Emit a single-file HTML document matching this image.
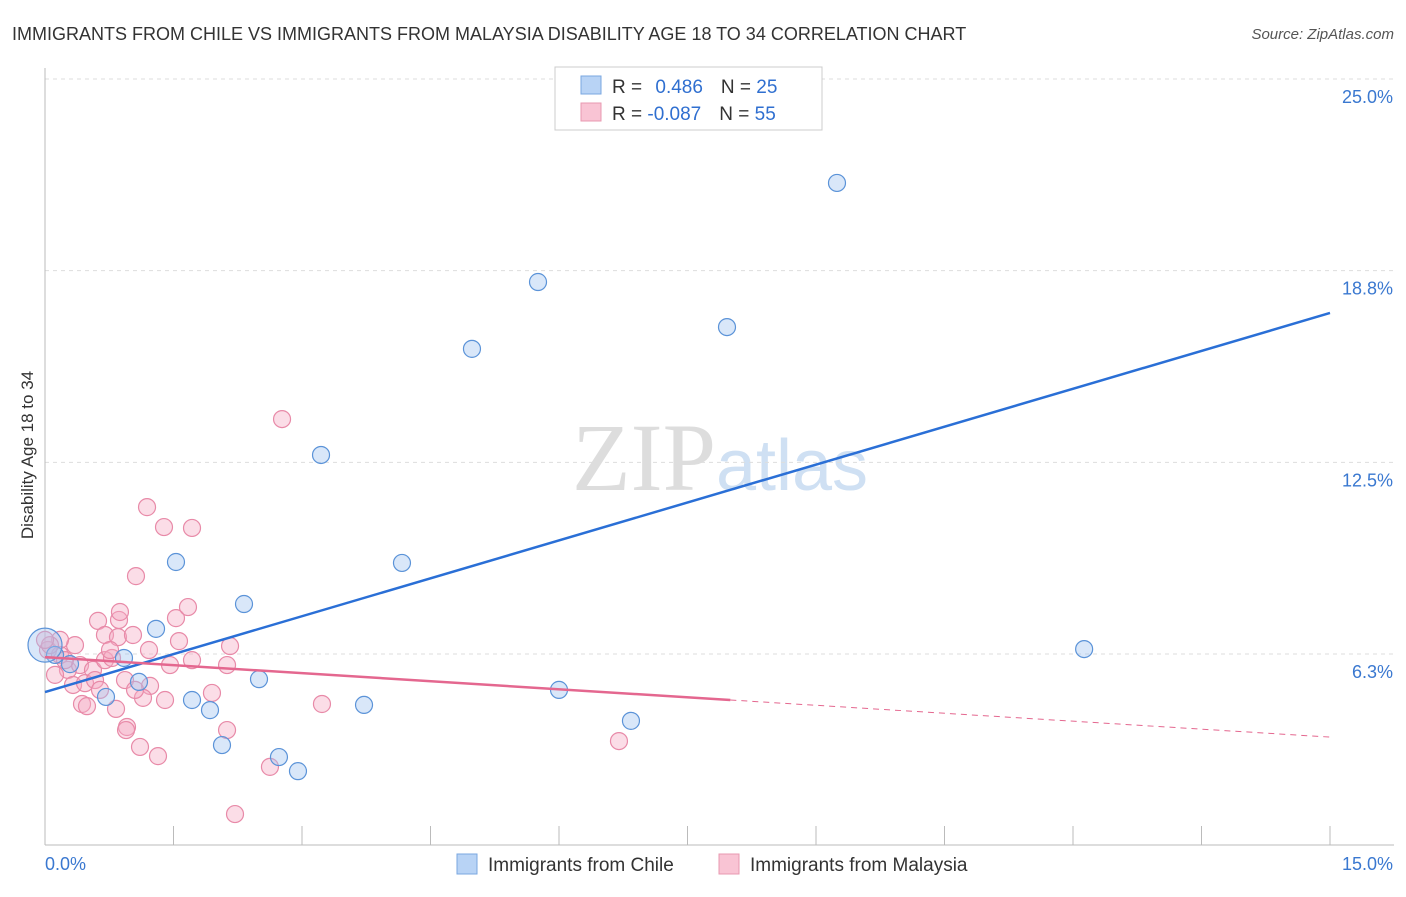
<!DOCTYPE html>
<html><head><meta charset="utf-8"><style>
body{margin:0;background:#fff;font-family:"Liberation Sans",sans-serif}
</style></head><body>
<svg id="chart" width="1406" height="892" xmlns="http://www.w3.org/2000/svg" font-family="Liberation Sans, sans-serif">
<text x="12" y="40" font-size="18" fill="#333">IMMIGRANTS FROM CHILE VS IMMIGRANTS FROM MALAYSIA DISABILITY AGE 18 TO 34 CORRELATION CHART</text>
<text x="1394" y="39" font-size="15" fill="#555" text-anchor="end" font-style="italic">Source: ZipAtlas.com</text>
<text x="720" y="490" font-size="96" text-anchor="middle" fill="#ddd" font-family="Liberation Serif, serif">ZIP<tspan fill="#cfe0f3" font-family="Liberation Sans, sans-serif" font-size="72">atlas</tspan></text>
<text transform="translate(33,455) rotate(-90)" font-size="17" fill="#333" text-anchor="middle">Disability Age 18 to 34</text>
<g id="grid"></g><g id="axes"></g><g id="marks"></g>
<g>
<rect x="555" y="67" width="267" height="63" fill="#fff" stroke="#ccc"/>
<rect x="581" y="76" width="20" height="18" fill="#b8d3f5" stroke="#7aa7e0"/>
<rect x="581" y="103" width="20" height="18" fill="#f9c4d4" stroke="#e899b0"/>
<text x="612" y="93" font-size="19" fill="#333">R = <tspan fill="#2f6fd0" dx="8">0.486</tspan><tspan dx="18" fill="#333">N = </tspan><tspan fill="#2f6fd0">25</tspan></text>
<text x="612" y="120" font-size="19" fill="#333">R = <tspan fill="#2f6fd0">-0.087</tspan><tspan dx="18" fill="#333">N = </tspan><tspan fill="#2f6fd0">55</tspan></text>
</g>
<g>
<rect x="457" y="854" width="20" height="20" fill="#b8d3f5" stroke="#7aa7e0"/>
<text x="488" y="871" font-size="19" fill="#333">Immigrants from Chile</text>
<rect x="719" y="854" width="20" height="20" fill="#f9c4d4" stroke="#e899b0"/>
<text x="750" y="871" font-size="19" fill="#333">Immigrants from Malaysia</text>
</g>
</svg>
<script>
const yTicks=[6.25,12.5,18.75,25];
const yTickLabels=["6.3%","12.5%","18.8%","25.0%"];
const xTickLabels=["0.0%","15.0%"];
const chileX=[9.245,5.755,4.984,7.961,3.222,4.167,1.529,2.323,1.296,0.922,1.097,2.498,1.716,1.926,3.724,6.0,6.84,2.066,2.731,2.953,12.13,0.712,0.292,0.117,0];
const chileY=[21.61,18.38,16.20,16.91,12.74,9.22,9.25,7.88,7.07,6.12,5.34,5.43,4.75,4.42,4.59,5.08,4.07,3.28,2.89,2.43,6.41,4.85,5.92,6.22,6.54];
const malX=[2.767,1.191,1.389,1.716,1.062,0.864,0.619,0.875,0.700,0.852,1.027,1.529,1.669,1.564,2.160,1.214,0.350,0.035,0.175,0.268,0.117,0.409,0.560,0.700,0.782,0.934,1.226,1.459,1.716,2.125,1.949,1.401,1.144,0.432,0.490,0.829,0.957,0.946,1.109,1.319,2.125,3.233,2.626,2.218,6.70,0.327,0.467,0.584,1.051,0.759,0.175,0.233,0.058,0.642,0];
const malY=[13.91,11.04,10.39,10.36,8.79,7.36,7.33,7.62,6.87,6.80,6.87,7.42,7.78,6.67,6.51,6.38,6.54,6.38,6.22,5.73,5.57,5.89,5.73,6.05,6.12,5.40,5.21,5.89,6.05,5.89,4.98,4.75,4.82,4.62,4.55,4.46,3.87,3.77,3.22,2.92,3.77,4.62,2.57,1.03,3.41,5.24,5.30,5.40,5.08,6.38,6.71,6.05,6.54,5.08,6.71];
const chileTrend=[[0,5.01],[15,17.37]];
const malTrend=[[0,6.15],[8,4.75],[15,3.54]];
const X=v=>45+v/15*1285, Y=v=>654-(v-6.25)*30.667;
const NS="http://www.w3.org/2000/svg";
function mk(t,a,p){const e=document.createElementNS(NS,t);for(const k in a)e.setAttribute(k,a[k]);p.appendChild(e);return e;}
const grid=document.getElementById('grid'),axes=document.getElementById('axes'),marks=document.getElementById('marks');
yTicks.forEach((t,i)=>{
 const l=mk('line',{x1:45,x2:1394,y1:Y(t),y2:Y(t),stroke:'#ddd','stroke-dasharray':'4,4'},grid);
 
 
 const tx=mk('text',{x:1393,y:Y(t)+24,'font-size':18,fill:'#3a78d0','text-anchor':'end'},axes);
 tx.textContent=yTickLabels[i];
 
 
});
const ax=mk('line',{x1:45,x2:45,y1:68,y2:845,stroke:'#bbb'},axes);


const bx=mk('line',{x1:45,x2:1394,y1:845,y2:845,stroke:'#bbb'},axes);


for(let i=1;i<=10;i++){const v=i*1.5;const t=mk('line',{x1:X(v),x2:X(v),y1:826,y2:845,stroke:'#bbb'},axes);
 
 }
[[0,'start',45],[15,'end',1393]].forEach((d,i)=>{const t=mk('text',{x:d[2],y:870,'font-size':18,fill:'#3a78d0','text-anchor':d[1]},axes);t.textContent=xTickLabels[i];
 
 });
malX.forEach((x,i)=>{const c=mk('circle',{cx:X(x),cy:Y(malY[i]),r:8.5,fill:'rgba(246,170,195,0.4)',stroke:'#e88aa8','stroke-width':1.2},marks);
 
 });
chileX.forEach((x,i)=>{const c=mk('circle',{cx:X(x),cy:Y(chileY[i]),r:i==24?17:8.5,fill:'rgba(160,196,240,0.4)',stroke:'#5b93d8','stroke-width':1.2},marks);
 
 });
const bl=mk('line',{x1:X(chileTrend[0][0]),y1:Y(chileTrend[0][1]),x2:X(chileTrend[1][0]),y2:Y(chileTrend[1][1]),stroke:'#2a6fd6','stroke-width':2.5},marks);


const pl=mk('line',{x1:X(malTrend[0][0]),y1:Y(malTrend[0][1]),x2:X(malTrend[1][0]),y2:Y(malTrend[1][1]),stroke:'#e4678f','stroke-width':2.5},marks);


const pd=mk('line',{x1:X(malTrend[1][0]),y1:Y(malTrend[1][1]),x2:X(malTrend[2][0]),y2:Y(malTrend[2][1]),stroke:'#e4678f','stroke-width':1,'stroke-dasharray':'6,5'},marks);


</script>
</body></html>
